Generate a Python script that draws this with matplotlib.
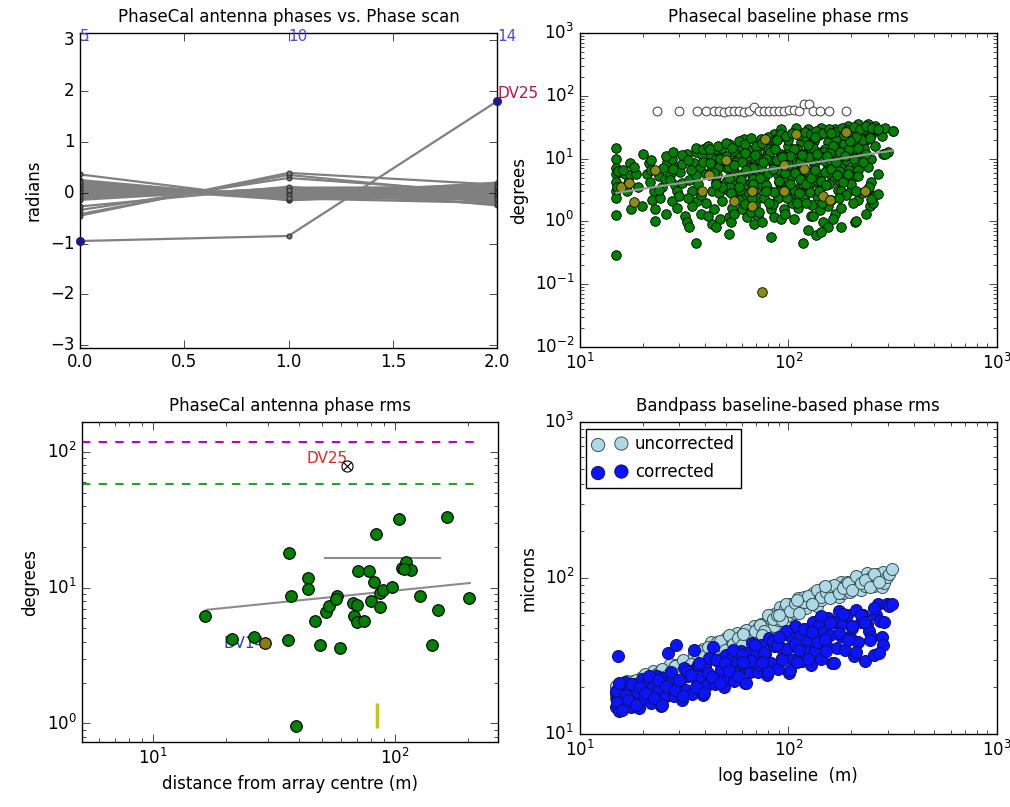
import matplotlib
matplotlib.use('Agg')
import matplotlib.pyplot as plt

plt.style.use('classic')
plt.rcParams.update({
    'figure.facecolor': 'white',
    'savefig.facecolor': 'white',
    'font.family': 'DejaVu Sans',
    'font.size': 12,
    'axes.titlesize': 12,
    'axes.labelsize': 12,
    'xtick.labelsize': 12,
    'ytick.labelsize': 12,
    'mathtext.fontset': 'dejavusans',
    'mathtext.default': 'regular',
    'xtick.major.size': 6,
    'ytick.major.size': 6,
    'xtick.minor.size': 3,
    'ytick.minor.size': 3,
})

# ---- top left: antenna phases per phasecal scan ----
scans = [0, 1, 2]
scan_numbers = ['5', '10', '14']
phase_scan0 = [0.36, 0.25, 0.22, 0.20, 0.18, 0.15, 0.13, 0.12, 0.10, 0.08,
               0.07, 0.05, 0.04, 0.03, 0.02, 0.00, -0.01, -0.02, -0.03, -0.05,
               -0.06, -0.08, -0.10, -0.12, -0.14, -0.27, -0.34, -0.42, -0.45, 0.19,
               0.11, 0.06, -0.04, 0.14, 0.01, 0.09, -0.07, 0.16, 0.21]
phase_scan1 = [-0.15, -0.12, -0.10, -0.13, -0.08, -0.10, -0.06, -0.09, -0.05, -0.04,
               -0.06, -0.02, -0.03, 0.00, -0.01, 0.01, 0.02, 0.03, 0.02, 0.04,
               0.05, 0.06, 0.08, 0.09, 0.10, 0.12, 0.29, 0.35, 0.39, -0.11,
               -0.07, -0.04, 0.03, -0.14, 0.00, -0.05, 0.05, -0.12, -0.10]
phase_scan2 = [0.05, 0.10, -0.05, 0.15, 0.00, 0.08, -0.10, 0.03, 0.12, -0.03,
               0.06, -0.08, 0.02, 0.18, -0.12, 0.04, -0.02, 0.09, -0.15, 0.07,
               -0.06, 0.13, 0.01, -0.18, 0.11, -0.25, 0.00, -0.05, 0.16, -0.20,
               0.20, -0.09, 0.05, -0.04, -0.22, 0.10, -0.01, 0.14, -0.13]
dv25_phase = [-0.95, -0.85, 1.80]

# ---- top right: phasecal baseline phase rms ----
green_x = [15.0, 15.0, 15.0, 15.0, 15.0, 15.0, 15.0, 15.0, 15.0, 15.2, 15.1,
           16.5, 17.4, 17.4, 18.7, 17.1, 19.1, 17.7, 19.8, 16.8, 16.2, 18.2,
           21.4, 21.0, 21.8, 23.9, 22.6, 22.2, 24.3, 23.0, 23.0, 24.8, 25.5,
           26.2, 27.7, 29.2, 27.2, 30.3, 28.7, 30.9, 29.2, 27.7, 32.1, 32.7, 33.3, 29.2, 31.0, 28.0,
           32.7, 35.9, 38.6, 35.2, 37.9, 33.3, 35.9, 40.1, 34.6, 36.5, 34.6, 40.1, 35.9, 39.0, 37.0, 38.0,
           42.4, 44.8, 43.2, 46.5, 44.8, 43.2, 46.5, 48.2, 44.0, 43.2, 47.3, 44.8, 45.5, 42.0, 47.0, 48.0,
           51.9, 54.9, 57.0, 50.9, 54.9, 50.0, 55.9, 51.9, 53.9, 51.9, 52.9, 51.9, 50.5, 53.0, 56.5, 52.5, 57.0, 55.0,
           60.3, 63.7, 64.9, 73.8, 62.5, 69.8, 60.3, 67.3, 72.5, 62.5, 69.8, 61.4, 72.5, 60.3, 63.7,
           71.2, 68.6, 75.2, 66.0, 70.5, 58.5, 65.0, 74.0, 59.0, 66.0, 74.0, 65.0, 58.5, 69.0, 66.5,
           85.5, 92.2, 109, 124, 144, 167, 193, 216, 241, 260, 280, 318,
           76.6, 85.5, 99.3, 115, 133, 155, 179, 208, 224, 241, 280,
           79.4, 92.2, 107, 124, 144, 167, 193, 224, 250, 285,
           73.8, 85.5, 99.3, 115, 133, 155, 179, 208,
           76.6, 88.8, 103, 119, 138, 161, 186, 208,
           79.4, 92.2, 107, 124, 144, 173, 200,
           76.6, 88.8, 103, 119, 138, 161, 179, 216, 246, 236,
           82.5, 95.7, 111, 129, 155, 167, 179,
           85.5, 92.2, 107, 131, 147, 164, 208, 179,
           82.5, 124, 136, 155, 144, 117,
           80, 90, 100, 110, 120, 130, 140, 150, 160, 170, 180, 200, 220, 230, 250, 265, 290,
           80, 90, 100, 110, 120, 130, 140, 150, 160, 170, 190, 210, 230, 260, 300,
           80, 95, 105, 115, 125, 135, 150, 165, 175, 195, 215, 240, 250, 270,
           85, 98, 112, 127, 140, 190, 205, 225, 255, 270, 240, 255,
           20, 22, 25, 26, 28, 31, 33, 34, 36, 39, 41, 45, 48, 22, 24, 27, 30, 33, 38, 41, 26, 61,
           42, 46, 50, 54, 58, 62, 66, 70, 75, 80, 86, 92, 98, 104, 112, 120, 128, 136, 146, 156,
           168, 180, 192, 206, 220, 236, 252, 268, 56, 64, 72, 82, 94, 106, 118, 132, 148, 164,
           184, 204, 226, 246, 44, 52, 60, 68, 78, 88, 102, 114, 126, 142, 158, 176, 196, 215,
           235, 212, 198, 185,
           48, 58, 68, 78, 90, 104, 118, 136, 156, 176, 200, 62, 84, 110, 130, 96, 72, 142,
           216, 250, 211, 290, 318,
           45, 52, 58, 63, 68, 73, 78, 84, 90, 96, 102, 108, 114, 121, 128, 135, 143, 152, 161, 171,
           182, 194, 47, 55, 62, 69, 76, 86, 93, 100, 116, 124, 138, 153, 170, 188, 207, 228,
           53, 67, 81, 99, 122, 145, 175, 210, 244, 88, 134, 160]
green_y = [14.7, 10.0, 7.2, 5.8, 4.3, 3.0, 2.4, 1.28, 0.29, 6.4, 3.6,
           5.8, 8.4, 5.5, 5.8, 4.1, 3.6, 1.57, 1.77, 3.0, 6.6, 7.3,
           8.6, 5.8, 4.3, 5.2, 3.0, 2.2, 2.4, 1.57, 1.03, 3.6, 4.8,
           8.9, 10.0, 7.4, 5.5, 6.2, 3.8, 4.1, 3.0, 2.1, 1.23, 0.97, 0.81, 1.66, 8.2, 6.8,
           12.0, 12.7, 11.3, 8.4, 7.0, 4.6, 5.5, 5.8, 3.0, 2.1, 1.77, 2.0, 0.45, 9.0, 4.0, 2.6,
           11.3, 10.0, 7.0, 7.4, 4.3, 3.0, 2.8, 2.1, 1.57, 0.91, 1.09, 0.81, 5.5, 8.5, 12.5, 9.5,
           17.1, 12.7, 10.0, 7.0, 6.2, 4.3, 4.3, 3.0, 1.66, 1.16, 0.97, 0.64, 11.0, 8.5, 5.2, 3.6, 2.6, 1.3,
           15.2, 12.0, 13.5, 20.5, 8.4, 8.9, 5.8, 5.5, 6.2, 3.8, 3.3, 2.4, 2.4, 1.57, 1.16,
           1.16, 0.91, 0.97, 10.5, 12.0, 10.5, 7.0, 8.0, 4.6, 4.3, 4.0, 2.8, 3.2, 1.8, 1.4,
           24.6, 29.4, 31.2, 29.4, 31.2, 29.4, 33.1, 35.0, 35.0, 33.1, 27.7, 27.7,
           16.2, 18.2, 16.2, 18.2, 19.3, 18.2, 18.2, 20.5, 18.2, 20.5, 23.1,
           11.3, 12.0, 10.6, 13.5, 12.7, 11.3, 12.0, 12.0, 10.0, 12.0,
           7.0, 7.9, 8.4, 7.4, 7.9, 7.4, 7.9, 8.9,
           4.9, 5.5, 5.2, 4.9, 5.5, 5.5, 5.2, 5.2,
           3.4, 3.6, 3.2, 3.4, 3.6, 3.2, 3.2,
           2.4, 2.4, 2.2, 2.4, 2.5, 2.2, 3.0, 2.2, 1.77, 1.31,
           1.57, 1.57, 1.66, 1.23, 1.77, 1.31, 1.66,
           1.16, 1.09, 1.09, 1.23, 0.97, 1.09, 0.97, 0.81,
           0.57, 0.72, 0.61, 0.81, 0.68, 0.45,
           14, 22, 20, 14, 22, 16, 24, 14, 25, 21, 15, 27, 25, 30, 24, 29, 31,
           9.5, 6.5, 12, 9, 10, 9.5, 10, 9.2, 8.7, 14, 9.5, 14, 15, 16, 13,
           6, 4.5, 6.5, 3.8, 6, 4.3, 6.2, 4.5, 6.3, 6.7, 6.5, 7.5, 4.2, 5.7,
           2.9, 2.7, 2.8, 2.9, 3.0, 2.6, 2.0, 2.8, 2.5, 2.7, 3.3, 2.0,
           12, 9.5, 7, 11, 13, 11.5, 9.5, 6.5, 15, 14, 16, 14, 15, 6.5, 3.2, 4.5, 2.5, 2.4, 1.3, 1.2, 1.3, 20.5,
           14, 16, 18, 15, 19, 17, 21, 16, 18, 22, 20, 25, 23, 26, 24, 27, 25, 28, 26, 30,
           27, 31, 29, 32, 30, 33, 31, 30, 9, 11, 10, 13, 11, 14, 12, 15, 13, 16,
           17, 18, 20, 21, 6, 7.5, 9, 7, 10, 9.5, 11, 9, 10.5, 11, 12.5, 13, 14, 15,
           12, 22, 19, 24,
           3.5, 2.2, 4.8, 3.8, 4.2, 2.0, 3.9, 4.6, 3.9, 4.4, 4.0, 1.9, 1.9, 2.0, 1.8, 1.3, 1.4, 1.5,
           5.2, 2.3, 1.0, 12, 28,
           4.0, 5.0, 3.5, 6.5, 4.0, 5.0, 3.0, 6.8, 4.4, 6.0, 4.0, 5.9, 4.7, 3.9, 5.0, 6.6, 4.4, 3.8, 6.9, 5.5,
           4.2, 5.8, 10.0, 8.0, 12.5, 11.5, 9.0, 14.5, 10.5, 8.0, 11.5, 16.5, 12.0, 11.0, 9.0, 11.0, 10.0, 9.0,
           2.8, 2.4, 2.0, 2.4, 2.0, 2.0, 2.4, 3.0, 3.6, 20.0, 22.0, 26.0]
olive_x = [15.8, 17.3, 18.3, 23.0, 41.6, 38.6, 50.0, 54.9, 67.3, 67.3,
           77.5, 109, 189, 95.7, 119, 232, 95.7, 147, 158, 75]
olive_y = [3.6, 4.1, 2.06, 6.6, 5.5, 3.0, 9.4, 2.1, 3.0, 1.77,
           20.5, 24.6, 26.5, 7.9, 6.9, 3.0, 3.0, 2.5, 2.2, 0.075]
flagged_x = [23.4, 29.8, 36.5, 40.1, 44.0, 46.5, 49.1, 51.9, 54.9, 58.0,
             61.4, 64.9, 68.6, 72.5, 76.6, 81.0, 85.6, 90.5, 95.7, 101,
             107, 113, 119, 126, 131, 142, 157, 190]
flagged_y = [57, 57, 57, 57, 58, 57, 56, 58, 57, 57,
             56, 57, 67, 57, 57, 58, 57, 57, 58, 59,
             60, 58, 73, 73, 58, 57, 57, 57]
bl_fit_x = [15.0, 318]
bl_fit_y = [2.85, 13.5]

# ---- bottom left: antenna phase rms vs distance ----
ant_dist = [16.5, 21.2, 26.1, 36.6, 37.4, 36.3, 39.1, 43.8, 43.8, 46.8,
            48.9, 52.0, 53.5, 57.7, 59.2, 57.0, 67.3, 67.9, 69.8, 69.5,
            70.1, 74.5, 78.3, 79.5, 81.8, 83.2, 86.7, 86.7, 89.5, 96.9,
            104.2, 107.2, 111, 117, 127, 143, 151, 164, 203, 109]
ant_rms = [6.2, 4.17, 4.29, 17.9, 8.7, 4.12, 0.96, 11.7, 9.8, 5.7,
           3.78, 6.66, 7.3, 8.6, 3.62, 8.3, 7.7, 6.2, 5.56, 7.5,
           13.3, 5.7, 13.3, 8.0, 10.9, 24.8, 7.2, 9.1, 9.6, 10.05,
           31.8, 13.9, 15.3, 13.5, 8.6, 3.77, 6.8, 33.3, 8.4, 13.8]
dv14_dist = [29.0]
dv14_rms = [3.9]
dv25_dist = [63.6]
dv25_rms = [78.5]
ant_fit_x = [16.7, 204]
ant_fit_y = [6.86, 10.8]
median_x = [51.4, 153]
median_y = [16.4, 16.4]
limit_magenta = 118.5
limit_green = 57.5
limit_xrange = [5.1, 224]
marker_x = 84
marker_yrange = [0.93, 1.41]

# ---- bottom right: bandpass baseline phase rms ----
bp_baseline = [15.0, 15.0, 15.1, 15.2, 15.3, 15.5, 15.8, 16.1, 16.4, 16.9,
               17.3, 17.6, 18.0, 18.4, 18.9, 19.3, 19.8, 20.3, 20.7, 21.2,
               21.9, 22.4, 22.9, 23.5, 24.0, 24.6, 25.2, 25.8, 26.5, 27.0,
               27.6, 28.3, 29.0, 29.5, 30.2, 30.9, 31.6, 32.3, 33.0, 33.8,
               34.6, 35.5, 36.3, 37.1, 38.0, 38.9, 39.7, 40.6, 41.5, 42.5,
               43.5, 44.5, 45.6, 46.7, 47.8, 48.9, 50.1, 51.3, 52.6, 53.9,
               55.2, 56.5, 57.9, 59.3, 60.8, 62.2, 63.7, 65.3, 66.9, 68.5,
               70.2, 71.9, 73.6, 75.4, 77.2, 79.1, 81.0, 83.0, 85.0, 87.1,
               89.2, 91.4, 93.6, 95.9, 98.2, 100.6, 103.0, 105.5, 108.1, 110.7,
               113.4, 116.2, 119.0, 121.9, 124.8, 127.8, 130.9, 134.1, 137.4, 140.7,
               144.1, 147.6, 151.2, 154.9, 158.6, 162.5, 166.4, 170.5, 174.6, 178.8,
               183.2, 187.6, 192.2, 196.8, 201.6, 206.5, 211.5, 216.7, 221.9, 227.3,
               232.8, 238.5, 244.3, 250.2, 256.3, 262.5, 268.9, 275.4, 282.1, 285.0,
               289.0, 296.0, 305.0, 313.0,
               15.0, 15.1, 15.4, 16.0, 16.7, 17.1, 17.9, 18.6, 19.5, 20.5,
               21.5, 22.6, 23.7, 24.9, 26.0, 27.3, 28.6, 30.0, 31.3, 32.8,
               34.3, 35.9, 37.5, 39.3, 41.0, 43.0, 45.0, 47.2, 49.5, 51.9,
               54.4, 57.1, 60.0, 63.0, 66.1, 69.4, 72.8, 76.4, 80.2, 84.2,
               88.4, 92.8, 97.4, 102.3, 107.4, 112.8, 118.4, 124.3, 130.5, 137.0,
               143.8, 151.0, 158.5, 166.4, 174.7, 183.4, 192.6, 202.2, 212.3, 222.9,
               234.0, 245.7, 258.0, 270.9, 60.5, 75.0, 90.0, 110.0, 130.0, 150.0]
bp_corrected = [14.8, 18.4, 16.4, 31.5, 17.6, 14.0, 19.6, 15.6, 21.6, 17.0,
                19.0, 14.8, 20.8, 16.9, 18.6, 14.6, 22.4, 16.8, 20.1, 21.5,
                15.7, 19.9, 18.0, 23.5, 19.7, 15.2, 22.7, 17.5, 33.0, 19.9,
                22.8, 17.4, 37.0, 19.9, 21.8, 16.6, 26.6, 19.2, 23.6, 25.5,
                18.1, 34.5, 20.8, 27.5, 23.2, 17.8, 27.1, 20.6, 30.7, 23.6,
                36.0, 20.9, 29.8, 23.8, 26.2, 19.9, 32.1, 23.2, 28.5, 31.1,
                21.8, 28.6, 25.3, 34.1, 28.3, 21.2, 33.0, 25.0, 38.1, 28.7,
                33.7, 24.8, 37.0, 29.0, 32.4, 23.8, 41.5, 28.4, 36.4, 40.0,
                26.0, 36.1, 30.9, 44.0, 35.2, 24.5, 42.0, 29.6, 49.4, 35.4,
                42.4, 29.3, 47.4, 35.3, 40.0, 27.5, 52.4, 33.8, 44.9, 49.8,
                30.4, 45.0, 37.4, 55.5, 43.2, 28.6, 52.2, 35.5, 61.3, 42.6,
                51.7, 34.4, 57.8, 42.0, 47.8, 31.8, 62.4, 39.0, 52.0, 57.5,
                29.4, 50.6, 46.0, 41.8, 31.9, 58.0, 68.0, 53.0, 41.8, 37.0,
                52.0, 68.0, 66.5, 68.0,
                18.8, 16.0, 21.2, 14.2, 17.8, 16.5, 20.8, 15.3, 20.1, 18.2,
                23.5, 16.9, 22.1, 15.3, 20.2, 25.0, 19.2, 22.3, 17.4, 25.3,
                24.0, 20.1, 28.5, 18.4, 24.7, 23.2, 29.8, 21.2, 28.5, 25.5,
                34.3, 23.6, 32.2, 21.2, 29.3, 37.1, 27.8, 33.1, 25.0, 39.5,
                37.0, 29.7, 45.6, 25.7, 37.7, 34.5, 47.4, 30.2, 45.2, 38.8,
                56.8, 34.2, 51.4, 28.7, 44.2, 58.6, 40.2, 49.6, 33.6, 57.5,
                52.4, 39.9, 64.3, 33.0, 29.1, 29.0, 41.7, 28.9, 45.1, 40.5]
bp_uncorrected = [16.9, 20.3, 17.9, 19.0, 16.9, 19.8, 18.3, 19.2, 17.2, 21.8,
                  19.0, 20.9, 21.9, 18.8, 21.3, 20.2, 23.2, 21.3, 19.1, 23.2,
                  20.9, 25.4, 22.6, 24.4, 21.8, 25.9, 23.6, 24.8, 22.3, 27.9,
                  24.0, 26.5, 27.8, 23.7, 26.8, 25.4, 29.3, 26.9, 24.0, 29.1,
                  26.0, 32.2, 29.1, 31.8, 28.9, 34.9, 32.1, 34.1, 30.8, 38.6,
                  33.4, 36.9, 38.7, 33.3, 37.8, 35.7, 41.1, 37.8, 33.9, 41.1,
                  36.7, 44.5, 39.5, 42.7, 38.2, 45.7, 41.6, 43.8, 39.6, 49.6,
                  43.0, 48.1, 51.0, 44.3, 50.9, 49.3, 57.5, 54.4, 49.1, 59.8,
                  53.6, 65.5, 58.6, 63.8, 57.3, 68.4, 62.1, 65.6, 59.3, 74.3,
                  64.3, 71.4, 75.1, 64.5, 73.4, 69.6, 80.3, 73.8, 66.3, 81.6,
                  72.5, 88.0, 78.1, 84.4, 75.6, 89.5, 81.0, 84.6, 75.5, 94.0,
                  80.6, 89.9, 94.5, 81.6, 92.8, 88.0, 101.5, 93.2, 83.5, 100.4,
                  89.0, 107.3, 94.6, 101.1, 89.4, 105.6, 94.7, 98.6, 87.8, 108.6,
                  92.9, 102.1, 106.8, 114.0,
                  18.5, 16.5, 20.3, 18.2, 20.5, 17.6, 20.3, 22.3, 19.6, 24.2,
                  21.6, 23.5, 21.3, 26.2, 23.4, 25.5, 27.2, 24.1, 29.6, 26.7,
                  28.2, 26.4, 33.9, 31.5, 35.9, 31.0, 35.8, 39.6, 34.8, 42.8,
                  38.0, 41.2, 37.3, 46.2, 41.7, 45.6, 49.7, 45.4, 57.7, 54.2,
                  58.1, 53.7, 67.9, 61.4, 69.5, 60.0, 69.7, 77.2, 68.0, 84.2,
                  75.6, 81.9, 74.4, 90.7, 80.2, 86.0, 93.2, 83.4, 103.2, 93.2,
                  97.3, 87.3, 106.8, 94.0, 43.5, 43.0, 57.6, 72.2, 67.9, 88.8]

fig = plt.figure(figsize=(10.1, 8.07), dpi=100)

# top left
ax1 = fig.add_axes([0.0792, 0.569, 0.413, 0.390])
for p0, p1, p2 in zip(phase_scan0, phase_scan1, phase_scan2):
    ax1.plot(scans, [p0, p1, p2], '-o', color='0.5', lw=1.6, ms=3.5,
             mfc='0.45', mec='0.2', mew=0.8)
ax1.plot(scans, dv25_phase, '-o', color='0.5', lw=1.6, ms=3.5, mfc='0.45', mec='0.2', mew=0.8)
ax1.plot(scans[::2], dv25_phase[::2], 'o', color='#1a1a8c', mec='#1a1a8c', ms=6, clip_on=False, zorder=5)
ax1.text(scans[-1], dv25_phase[-1], 'DV25', color='#c0104a', fontsize=11, ha='left', va='bottom')
for s, lbl in zip(scans, scan_numbers):
    ax1.text(s, 3.07, lbl, color='#4b4bdc', fontsize=11, ha='left', va='center')
ax1.set_xlim(0, 2)
ax1.set_ylim(-3.05, 3.14)
ax1.set_xticks([0.0, 0.5, 1.0, 1.5, 2.0])
ax1.set_yticks([-3, -2, -1, 0, 1, 2, 3])
ax1.set_ylabel('radians')
ax1.set_title('PhaseCal antenna phases vs. Phase scan', pad=8)

# top right
ax2 = fig.add_axes([0.574, 0.570, 0.413, 0.389])
ax2.scatter(green_x, green_y, s=48, c='g', edgecolors='k', linewidths=0.6, zorder=2)
ax2.scatter(olive_x, olive_y, s=48, c='#8c8c10', edgecolors='k', linewidths=0.6, zorder=3)
ax2.scatter(flagged_x, flagged_y, s=40, facecolors='white', edgecolors='0.3', linewidths=0.8, zorder=2)
ax2.plot(bl_fit_x, bl_fit_y, '-', color='0.6', lw=1.5, zorder=4)
ax2.set_xscale('log')
ax2.set_yscale('log')
ax2.set_xlim(10, 1000)
ax2.set_ylim(0.01, 1000)
ax2.set_ylabel('degrees')
ax2.set_title('Phasecal baseline phase rms', pad=8)

# bottom left
ax3 = fig.add_axes([0.0812, 0.0805, 0.412, 0.3965])
ax3.hlines(limit_magenta, limit_xrange[0], limit_xrange[1], colors='m', linestyles='--', lw=1.5)
ax3.hlines(limit_green, limit_xrange[0], limit_xrange[1], colors='#2ca02c', linestyles='--', lw=1.5)
ax3.plot(median_x, median_y, '-', color='0.55', lw=1.5)
ax3.plot(ant_fit_x, ant_fit_y, '-', color='0.55', lw=1.5)
ax3.vlines(marker_x, marker_yrange[0], marker_yrange[1], colors='#c8c800', lw=2.5)
ax3.text(dv14_dist[0], dv14_rms[0], 'DV14', color='#2a3ad0', fontsize=11, ha='right', va='center', zorder=1)
ax3.scatter(ant_dist, ant_rms, s=70, c='g', edgecolors='k', linewidths=0.8, zorder=3)
ax3.scatter(dv14_dist, dv14_rms, s=70, c='#8c7c10', edgecolors='k', linewidths=0.8, zorder=4)
ax3.scatter(dv25_dist, dv25_rms, s=64, facecolors='white', edgecolors='k', linewidths=0.8, zorder=4)
ax3.scatter(dv25_dist, dv25_rms, s=40, marker='x', c='k', linewidths=0.8, zorder=5)
ax3.text(dv25_dist[0], dv25_rms[0], 'DV25', color='#e02828', fontsize=11, ha='right', va='bottom')
ax3.set_xscale('log')
ax3.set_yscale('log')
ax3.set_xlim(5.1, 267)
ax3.set_ylim(0.73, 165)
ax3.set_ylabel('degrees')
ax3.set_xlabel('distance from array centre (m)')
ax3.set_title('PhaseCal antenna phase rms', pad=8)

# bottom right
ax4 = fig.add_axes([0.574, 0.0905, 0.413, 0.3865])
ax4.scatter(bp_baseline, bp_uncorrected, s=75, c='lightblue', edgecolors='#3c5050', linewidths=0.7, label='uncorrected')
ax4.scatter(bp_baseline, bp_corrected, s=75, c='#0a14ff', edgecolors='#101060', linewidths=0.7, label='corrected')
ax4.set_xscale('log')
ax4.set_yscale('log')
ax4.set_xlim(10, 1000)
ax4.set_ylim(10, 1000)
ax4.set_ylabel('microns')
ax4.set_xlabel('log baseline  (m)')
ax4.set_title('Bandpass baseline-based phase rms', pad=8)
ax4.legend(loc='upper left', scatterpoints=2, fontsize=12, borderaxespad=0.4,
           handletextpad=0.5, borderpad=0.4, labelspacing=0.6, handlelength=2.0,
           markerscale=1.1)

fig.savefig('out.png', dpi=100)
